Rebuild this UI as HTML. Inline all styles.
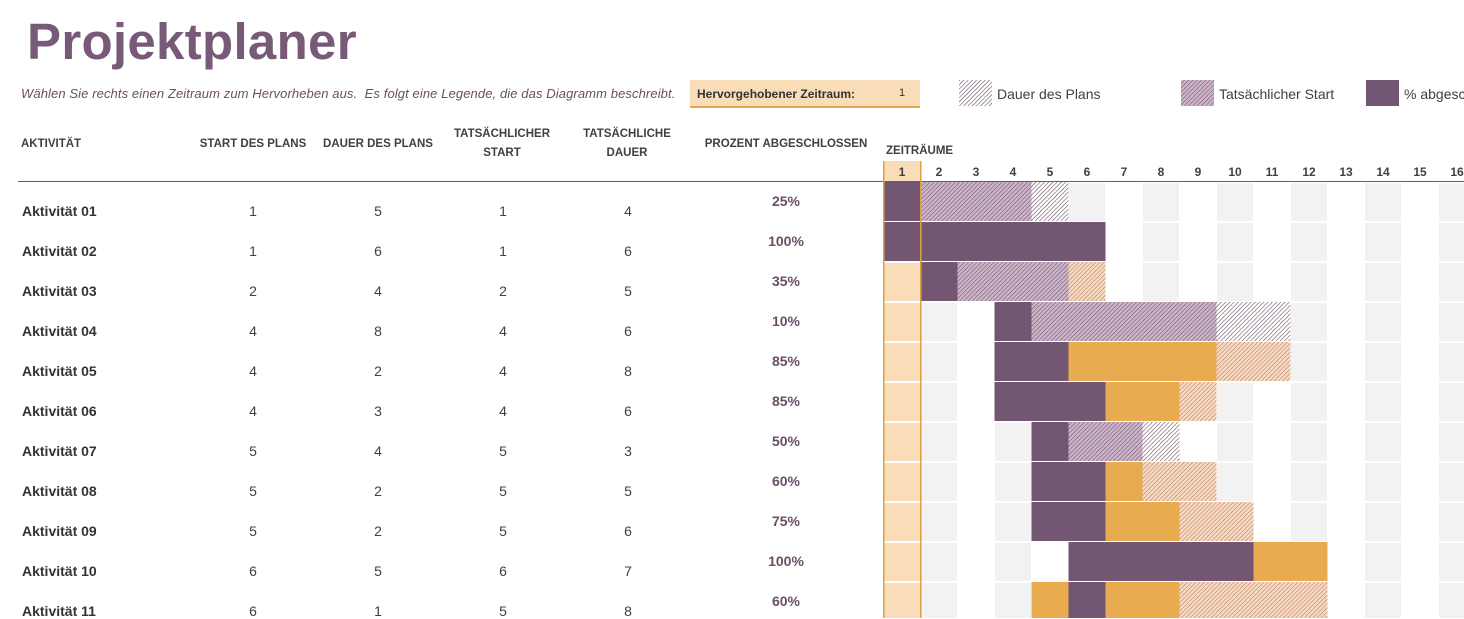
<!DOCTYPE html>
<html><head><meta charset="utf-8"><style>
body{margin:0;width:1464px;height:618px;overflow:hidden;background:#fff;font-family:"Liberation Sans",sans-serif;position:relative;color:#404040}
.a{position:absolute;white-space:nowrap}
.h{font-size:11.5px;font-weight:bold;color:#404040;text-align:center;line-height:19px}
.c{text-align:center;transform:translateX(-50%)}
</style></head><body>
<div class="a" style="left:27px;top:12px;font-size:51px;font-weight:bold;color:#765a78;letter-spacing:0.3px">Projektplaner</div>
<div class="a" style="left:21px;top:86px;font-size:13px;font-style:italic;color:#6b4e66;letter-spacing:0.1px">Wählen Sie rechts einen Zeitraum zum Hervorheben aus.&nbsp; Es folgt eine Legende, die das Diagramm beschreibt.</div>
<div class="a" style="left:690px;top:80px;width:230px;height:26px;background:#f8ddb8;border-bottom:2px solid #e3a64a;font-size:12px;font-weight:bold;color:#333">
<span style="position:absolute;left:7px;top:7px">Hervorgehobener Zeitraum:</span><span style="position:absolute;left:209px;top:7px;font-weight:normal;font-size:11px">1</span></div>
<svg class="a" style="left:0;top:0" width="1464" height="618">
<defs>
<pattern id="pPlan" width="3" height="3" patternUnits="userSpaceOnUse" patternTransform="rotate(45)"><rect width="3" height="3" fill="#fff"/><line x1="0" y1="0" x2="0" y2="3" stroke="#5e4459" stroke-width="1.1"/></pattern>
<pattern id="pAct" width="3" height="3" patternUnits="userSpaceOnUse" patternTransform="rotate(45)"><rect width="3" height="3" fill="#cdb6ca"/><line x1="0" y1="0" x2="0" y2="3" stroke="#6e5069" stroke-width="1.1"/></pattern>
<pattern id="pOr" width="3" height="3" patternUnits="userSpaceOnUse" patternTransform="rotate(45)"><rect width="3" height="3" fill="#f7dcc2"/><line x1="0" y1="0" x2="0" y2="3" stroke="#b27565" stroke-width="1.1"/></pattern>
</defs>
<rect x="959" y="80" width="33" height="26" fill="url(#pPlan)"/>
<rect x="1181" y="80" width="33" height="26" fill="url(#pAct)"/>
<rect x="1366" y="80" width="33" height="26" fill="#735671"/>
<text x="997" y="99" font-size="14" fill="#404040">Dauer des Plans</text>
<text x="1219" y="99" font-size="14" fill="#404040">Tatsächlicher Start</text>
<text x="1404" y="99" font-size="14" fill="#404040">% abgeschlossen</text>
<line x1="18" y1="181.5" x2="1464" y2="181.5" stroke="#6b5a68" stroke-width="1"/>
<g id="g"></g>
</svg>
<div class="a h" style="left:21px;top:135px">AKTIVITÄT</div>
<div class="a h c" style="left:253px;top:135px">START DES PLANS</div>
<div class="a h c" style="left:378px;top:135px">DAUER DES PLANS</div>
<div class="a h c" style="left:502px;top:125px">TATSÄCHLICHER<br>START</div>
<div class="a h c" style="left:627px;top:125px">TATSÄCHLICHE<br>DAUER</div>
<div class="a h c" style="left:786px;top:135px">PROZENT ABGESCHLOSSEN</div>
<div class="a h" style="left:886px;top:142px">ZEITRÄUME</div>
<div id="rows"></div>
<script>
const activities=["Aktivität 01","Aktivität 02","Aktivität 03","Aktivität 04","Aktivität 05","Aktivität 06","Aktivität 07","Aktivität 08","Aktivität 09","Aktivität 10","Aktivität 11"];
const planStart=[1,1,2,4,4,4,5,5,5,6,6];
const planDur=[5,6,4,8,2,3,4,2,2,5,1];
const actStart=[1,1,2,4,4,4,5,5,5,6,5];
const actDur=[4,6,5,6,8,6,3,5,6,7,8];
const pct=[25,100,35,10,85,85,50,60,75,100,60];
const periods=[1,2,3,4,5,6,7,8,9,10,11,12,13,14,15,16];
const highlight=1;
const X0=883.5,CW=37,Y0=182,RH=40;
const NS="http://www.w3.org/2000/svg";
const g=document.getElementById('g');
function xOf(p){return X0+(p-1)*CW;}
function yOf(i){return Y0+i*RH;}
function rect(x,y,w,h,f,name){const r=document.createElementNS(NS,'rect');r.setAttribute('x',x);r.setAttribute('y',y);r.setAttribute('width',w);r.setAttribute('height',h);r.setAttribute('fill',f);


g.appendChild(r);return r;}
periods.forEach(p=>{
 if(p===highlight){rect(xOf(p),161,CW,20,'#f8ddb8','highlight-header-cell');}
 const t=document.createElementNS(NS,'text');t.setAttribute('x',xOf(p)+CW/2);t.setAttribute('y',176);t.setAttribute('text-anchor','middle');t.setAttribute('font-size','12');t.setAttribute('font-weight','bold');t.setAttribute('fill','#404040');t.textContent=p;
 
 
 g.appendChild(t);
});
const rowsDiv=document.getElementById('rows');
activities.forEach((a,i)=>{
 const y=yOf(i);
 const done=Math.max(pct[i]>0?1:0,Math.floor(actDur[i]*pct[i]/100));
 periods.forEach(p=>{
  const inPlan=p>=planStart[i]&&p<planStart[i]+planDur[i];
  const inAct=p>=actStart[i]&&p<actStart[i]+actDur[i];
  const inDone=p>=actStart[i]&&p<actStart[i]+done;
  let f,n;
  if(inDone&&inPlan){f='#735671';n='bar-complete';}
  else if(inDone){f='#e8ab50';n='bar-complete-over';}
  else if(inAct&&inPlan){f='url(#pAct)';n='bar-actual';}
  else if(inAct){f='url(#pOr)';n='bar-actual-over';}
  else if(inPlan){f='url(#pPlan)';n='bar-plan';}
  else if(p===highlight){f='#f8ddb8';n='highlight-cell';}
  else {f=p%2===0?'#f2f2f2':'#ffffff';n='grid-cell';}
  const bar=n.startsWith('bar');
  rect(xOf(p)+(bar?0:0.5),y+(bar?0:1),bar?CW:CW-1,bar?RH-1:RH-2,f,n);
 });
 const cells=[[22,a,'activity-name',1],[253,planStart[i],'plan-start',0],[378,planDur[i],'plan-duration',0],[503,actStart[i],'actual-start',0],[628,actDur[i],'actual-duration',0]];
 cells.forEach(c=>{const d=document.createElement('div');d.className='a'+(c[3]?'':' c');d.style.left=c[0]+'px';d.style.top=(y+21)+'px';d.style.fontSize='14px';if(c[3]){d.style.fontWeight='bold';d.style.color='#333';}d.textContent=c[1];
  
  
  rowsDiv.appendChild(d);});
 const d=document.createElement('div');d.className='a c';d.style.left='786px';d.style.top=(y+11)+'px';d.style.fontSize='14px';d.style.fontWeight='bold';d.style.color='#6b4e66';d.textContent=pct[i]+'%';
 
 
 rowsDiv.appendChild(d);
});
[xOf(highlight),xOf(highlight)+CW].forEach(x=>{rect(x-0.5,161,1.5,457,'#e0a040','highlight-border');});
</script>
</body></html>
